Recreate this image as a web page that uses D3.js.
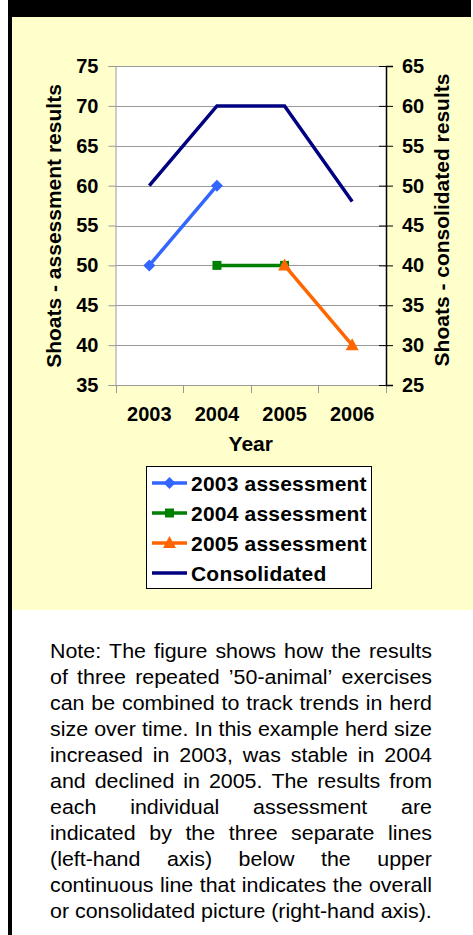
<!DOCTYPE html>
<html>
<head>
<meta charset="utf-8">
<script src="https://cdn.jsdelivr.net/npm/d3@7"></script>
<style>
body { margin: 0; background: #fff; }
svg { display: block; }
</style>
</head>
<body>
<div class="container"></div>
<script>
// chart data
var years = ["2003", "2004", "2005", "2006"];
var assess2003 = [50, 60, null, null];
var assess2004 = [null, 50, 50, null];
var assess2005 = [null, null, 50, 40];
var consolidated = [50, 60, 60, 48];

var leftTicks = [35, 40, 45, 50, 55, 60, 65, 70, 75];
var rightTicks = [25, 30, 35, 40, 45, 50, 55, 60, 65];

var legendLabels = ["2003 assessment", "2004 assessment", "2005 assessment", "Consolidated"];

var noteLines = [
	"Note: The figure shows how the results",
	"of three repeated \u201950-animal\u2019 exercises",
	"can be combined to track trends in herd",
	"size over time. In this example herd size",
	"increased in 2003, was stable in 2004",
	"and declined in 2005. The results from",
	"each individual assessment are",
	"indicated by the three separate lines",
	"(left-hand axis) below the upper",
	"continuous line that indicates the overall",
	"or consolidated picture (right-hand axis)."
];

var font = "Arial, 'Liberation Sans', sans-serif";

var svg = d3.select('.container')
.append('svg')
.attr('width', 473)
.attr('height', 935);

// page frame
svg.append('rect').attr('x', 0).attr('y', 0).attr('width', 473).attr('height', 935).attr('fill', '#fff');
svg.append('rect').attr('x', 12).attr('y', 17).attr('width', 461).attr('height', 593).attr('fill', '#FFFFCC');
svg.append('rect').attr('x', 8).attr('y', 0).attr('width', 463).attr('height', 17).attr('fill', '#000');
svg.append('rect').attr('x', 8).attr('y', 0).attr('width', 4).attr('height', 935).attr('fill', '#000');

// scales
var plot = {left: 115.5, right: 386, top: 66, bottom: 385};

var x = d3.scaleBand().domain(years).range([plot.left, plot.right]).padding(0);
var yL = d3.scaleLinear().domain([35, 75]).range([plot.bottom, plot.top]);
var yR = d3.scaleLinear().domain([25, 65]).range([plot.bottom, plot.top]);

svg.append('rect')
.attr('x', plot.left).attr('y', plot.top)
.attr('width', plot.right - plot.left).attr('height', plot.bottom - plot.top)
.attr('fill', '#fff');

// gridlines
svg.append('g').selectAll('line')
.data(leftTicks.slice(1))
.join('line')
.attr('x1', plot.left).attr('x2', plot.right)
.attr('y1', d => Math.round(yL(d)) + 0.5).attr('y2', d => Math.round(yL(d)) + 0.5)
.attr('stroke', '#999').attr('stroke-width', 1);

// left axis
var leftAxis = svg.append('g')
.attr('transform', 'translate(' + plot.left + ',0)')
.call(d3.axisLeft(yL).tickValues(leftTicks).tickSize(7).tickPadding(10));
leftAxis.select('.domain').attr('stroke', '#999');
leftAxis.selectAll('.tick line').attr('stroke', '#999');

// bottom axis: labels centred in bands, ticks on band edges
var bottomAxis = svg.append('g')
.attr('transform', 'translate(0,' + plot.bottom + ')')
.call(d3.axisBottom(x).tickSize(0).tickPadding(22));
bottomAxis.select('.domain').attr('stroke', '#999');
svg.append('g').selectAll('line')
.data(years.map(d => x(d)).concat([plot.right]))
.join('line')
.attr('x1', d => Math.round(d) + 0.5).attr('x2', d => Math.round(d) + 0.5)
.attr('y1', plot.bottom).attr('y2', plot.bottom + 8)
.attr('stroke', '#999');

// right axis with crossing ticks
var rightAxis = svg.append('g')
.attr('transform', 'translate(' + plot.right + ',0)')
.call(d3.axisRight(yR).tickValues(rightTicks).tickSize(7).tickPadding(9));
rightAxis.selectAll('.tick line').attr('x1', -7).attr('x2', 7);
rightAxis.select('.domain').attr('stroke', '#000').attr('stroke-width', 1.5);

svg.selectAll('.tick text')
.attr('font-family', font).attr('font-weight', 'bold').attr('font-size', 20).attr('fill', '#000');

// axis titles
svg.append('text')
.attr('transform', 'translate(61,226) rotate(-90)')
.attr('text-anchor', 'middle')
.attr('font-family', font).attr('font-weight', 'bold').attr('font-size', 21)
.text('Shoats - assessment results');

svg.append('text')
.attr('transform', 'translate(449,220) rotate(-90)')
.attr('text-anchor', 'middle')
.attr('font-family', font).attr('font-weight', 'bold').attr('font-size', 21)
.text('Shoats - consolidated results');

svg.append('text')
.attr('x', (plot.left + plot.right) / 2).attr('y', 451)
.attr('text-anchor', 'middle')
.attr('font-family', font).attr('font-weight', 'bold').attr('font-size', 21)
.text('Year');

// series
var series = [
	{name: legendLabels[0], values: assess2003, scale: yL, color: '#3366FF', marker: 'diamond'},
	{name: legendLabels[1], values: assess2004, scale: yL, color: '#008000', marker: 'square'},
	{name: legendLabels[2], values: assess2005, scale: yL, color: '#FF6600', marker: 'triangle'},
	{name: legendLabels[3], values: consolidated, scale: yR, color: '#000080', marker: null}
];

function markerPath(type) {
	if (type == 'diamond') return 'M0,-6L6,0L0,6L-6,0Z';
	if (type == 'square') return 'M-4.5,-4.5H4.5V4.5H-4.5Z';
	if (type == 'triangle') return 'M0,-7L6.5,5H-6.5Z';
	return null;
}

series.forEach(function (s) {
	var line = d3.line()
	.defined(d => d.v != null)
	.x(d => x(d.year) + x.bandwidth() / 2)
	.y(d => s.scale(d.v));
	var pts = years.map((y, i) => ({year: y, v: s.values[i]}));

	svg.append('path')
	.datum(pts)
	.attr('d', line)
	.attr('fill', 'none')
	.attr('stroke', s.color)
	.attr('stroke-width', 3.5)
	.attr('stroke-linejoin', 'miter');

	if (s.marker) {
		svg.append('g').selectAll('path')
		.data(pts.filter(d => d.v != null))
		.join('path')
		.attr('transform', d => 'translate(' + (x(d.year) + x.bandwidth() / 2) + ',' + s.scale(d.v) + ')')
		.attr('d', markerPath(s.marker))
		.attr('fill', s.color);
	}
});

// legend
var legend = svg.append('g');
legend.append('rect')
.attr('x', 146.5).attr('y', 466.5).attr('width', 225).attr('height', 122)
.attr('fill', '#fff').attr('stroke', '#000');

var rows = legend.selectAll('g')
.data(series)
.join('g')
.attr('transform', (d, i) => 'translate(0,' + (483 + i * 30) + ')');
rows.append('line')
.attr('x1', 152).attr('x2', 187)
.attr('stroke', d => d.color).attr('stroke-width', 3.5);
rows.filter(d => d.marker)
.append('path')
.attr('transform', 'translate(169.5,0)')
.attr('d', d => markerPath(d.marker))
.attr('fill', d => d.color);
rows.append('text')
.attr('x', 191).attr('dy', '0.36em')
.attr('font-family', font).attr('font-weight', 'bold').attr('font-size', 21)
.attr('letter-spacing', 0.2)
.text(d => d.name);

// note, justified between x=50 and x=432
var note = svg.append('g').attr('font-family', font).attr('font-size', 19.5).attr('fill', '#000');
var noteLeft = 50, noteRight = 432;

// horizontal stretch taken from the unjustified last line
var probe = note.append('text').text(noteLines[noteLines.length - 1]);
var stretch = (noteRight - noteLeft) / probe.node().getComputedTextLength();
probe.remove();

noteLines.forEach(function (line, i) {
	var g = note.append('g')
	.attr('transform', 'translate(' + noteLeft + ',' + (658 + i * 26) + ') scale(' + stretch + ',1)');
	var words = line.split(' ');
	var widths = [];
	var texts = words.map(function (w) {
		var t = g.append('text').text(w);
		widths.push(t.node().getComputedTextLength());
		return t;
	});
	var full = (noteRight - noteLeft) / stretch;
	var gap = 5.4;
	if (i < noteLines.length - 1 && words.length > 1) {
		gap = (full - d3.sum(widths)) / (words.length - 1);
	}
	var pos = 0;
	texts.forEach(function (t, k) {
		t.attr('x', pos);
		pos += widths[k] + gap;
	});
});
</script>
</body>
</html>
